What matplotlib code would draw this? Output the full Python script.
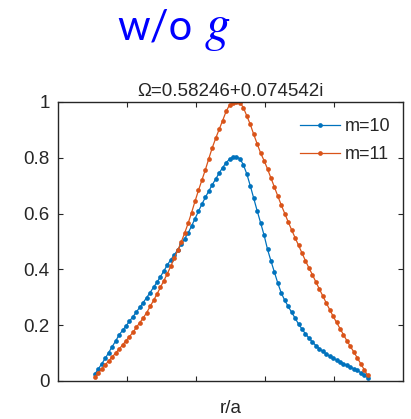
import numpy as np
import matplotlib
matplotlib.use("Agg")
import matplotlib.pyplot as plt

# radial grid (r/a), 80 points spaced 0.01 apart
r = np.round(0.107 + 0.01 * np.arange(80), 3)

# normalised eigenfunction amplitudes
m10 = [0.025, 0.043, 0.062, 0.081, 0.102, 0.123, 0.143, 0.165, 0.181, 0.197,
       0.214, 0.230, 0.247, 0.264, 0.281, 0.299, 0.317, 0.336, 0.354, 0.374,
       0.395, 0.416, 0.435, 0.452, 0.470, 0.490, 0.510, 0.530, 0.555, 0.582,
       0.608, 0.634, 0.658, 0.681, 0.703, 0.724, 0.745, 0.765, 0.782, 0.795,
       0.802, 0.803, 0.797, 0.775, 0.742, 0.700, 0.655, 0.610, 0.567, 0.523,
       0.472, 0.430, 0.390, 0.350, 0.315, 0.289, 0.267, 0.246, 0.225, 0.204,
       0.186, 0.169, 0.154, 0.140, 0.127, 0.116, 0.106, 0.097, 0.089, 0.082,
       0.075, 0.068, 0.062, 0.056, 0.050, 0.044, 0.038, 0.030, 0.022, 0.012]

m11 = [0.015, 0.028, 0.043, 0.058, 0.072, 0.086, 0.100, 0.114, 0.129, 0.144,
       0.159, 0.174, 0.192, 0.209, 0.226, 0.245, 0.267, 0.289, 0.312, 0.336,
       0.360, 0.385, 0.412, 0.440, 0.468, 0.498, 0.530, 0.565, 0.603, 0.644,
       0.683, 0.720, 0.757, 0.797, 0.836, 0.870, 0.902, 0.933, 0.966, 0.989,
       0.998, 1.000, 0.998, 0.980, 0.950, 0.920, 0.884, 0.850, 0.817, 0.790,
       0.760, 0.727, 0.695, 0.662, 0.630, 0.600, 0.570, 0.541, 0.513, 0.486,
       0.458, 0.431, 0.405, 0.381, 0.355, 0.330, 0.305, 0.280, 0.256, 0.232,
       0.210, 0.188, 0.166, 0.144, 0.124, 0.104, 0.083, 0.062, 0.041, 0.020]

labels = ["m=10", "m=11"]
title = "\u03a9=0.58246+0.074542i"
yticks = [0, 0.2, 0.4, 0.6, 0.8, 1]
yticklabels = ["0", "0.2", "0.4", "0.6", "0.8", "1"]

txt = "#262626"
plt.rcParams["font.family"] = ["Liberation Sans", "DejaVu Sans"]
plt.rcParams["mathtext.fontset"] = "stix"

fig = plt.figure(figsize=(4.11, 4.19), dpi=100)
ax = fig.add_axes([0.141, 0.0907, 0.840, 0.666])

ax.plot(r, m10, color="#0072BD", lw=0.9, marker="o", ms=3.4, mew=0, label=labels[0])
ax.plot(r, m11, color="#D95319", lw=0.9, marker="o", ms=3.4, mew=0, label=labels[1])

ax.set_xlim(0, 1)
ax.set_ylim(0, 1)
ax.set_xticks([0.2, 0.4, 0.6, 0.8])
ax.set_xticklabels([])
ax.set_yticks(yticks)
ax.set_yticklabels(yticklabels)
ax.tick_params(direction="in", top=True, right=True, length=3.5, width=0.8,
               colors=txt, labelsize=13.5, pad=6)
for s in ax.spines.values():
    s.set_color(txt)
    s.set_linewidth(1.0)

ax.set_title(title, fontsize=13.5, color=txt, pad=4)
ax.set_xlabel("r/a", fontsize=13.5, color=txt, labelpad=8)

ax.legend(loc="upper right", bbox_to_anchor=(0.985, 0.968), frameon=False,
          fontsize=13, handlelength=2.2, handletextpad=0.3, labelspacing=0.6,
          borderaxespad=0, numpoints=1, labelcolor=txt)

fig.text(0.285, 0.905, "w/o", fontsize=30, color="#0000FF", family="Lato")
fig.text(0.497, 0.905, "$g$", fontsize=37, color="#0000FF")

fig.savefig("out.png", dpi=100)
